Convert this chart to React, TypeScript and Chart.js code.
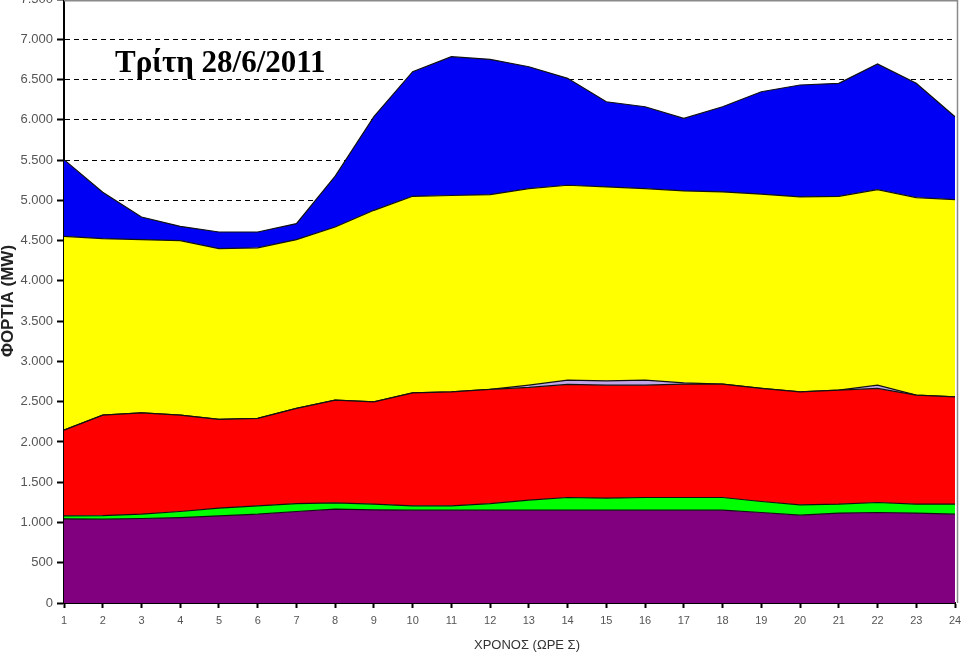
import React, { useEffect, useRef } from "react";
import { Chart, registerables } from "chart.js";

Chart.register(...registerables);

const hours = ["1","2","3","4","5","6","7","8","9","10","11","12","13","14","15","16","17","18","19","20","21","22","23","24"];

const purpleSeries = [1045,1041,1049,1061,1082,1103,1136,1165,1157,1153,1153,1153,1153,1153,1153,1153,1153,1153,1124,1091,1116,1124,1116,1103];
const greenSeries = [37,45,54,75,96,104,99,79,71,54,54,82,124,157,149,157,157,157,136,128,112,124,112,125];
const redSeries = [1065,1247,1259,1197,1102,1085,1181,1275,1270,1403,1415,1417,1400,1404,1403,1395,1408,1408,1405,1403,1415,1416,1353,1332];
const lavenderSeries = [0,0,0,0,0,0,0,0,0,0,0,0,28,53,54,62,16,0,0,0,0,41,0,0];
const yellowSeries = [2406,2191,2150,2167,2120,2118,2096,2150,2378,2440,2438,2418,2441,2420,2408,2379,2383,2386,2411,2420,2407,2429,2453,2450];
const blueSeries = [952,576,281,177,207,197,199,631,1164,1547,1724,1681,1513,1328,1057,1016,900,1058,1272,1390,1403,1559,1419,1027];

const yTitle = "ΦΟΡΤΙΑ (MW)";
const xTitle = "ΧΡΟΝΟΣ (ΩΡΕ Σ)";
const dateLabel = "Τρίτη 28/6/2011";

const TOP_SHIFT = 9;
const W = 961;
const H = 655 + TOP_SHIFT;

function fmt(v: number): string {
  if (v >= 1000) {
    const th = Math.floor(v / 1000);
    const rest = String(v % 1000).padStart(3, "0");
    return th + "." + rest;
  }
  return String(v);
}

const overlayPlugin = {
  id: "overlay",
  afterDraw(chart: any) {
    const { ctx, chartArea } = chart;
    ctx.save();
    ctx.strokeStyle = "#8a8a8a";
    ctx.lineWidth = 1.5;
    ctx.beginPath();
    ctx.moveTo(chartArea.left, TOP_SHIFT + 0.8);
    ctx.lineTo(chartArea.right + 3, TOP_SHIFT + 0.8);
    ctx.moveTo(chartArea.right + 2.5, TOP_SHIFT);
    ctx.lineTo(chartArea.right + 2.5, chartArea.bottom);
    ctx.stroke();
    ctx.fillStyle = "#000";
    ctx.font = 'bold 31px "Liberation Serif", "Times New Roman", serif';
    ctx.textAlign = "left";
    ctx.textBaseline = "alphabetic";
    ctx.fillText(dateLabel, 115, TOP_SHIFT + 72);
    ctx.fillStyle = "#333";
    ctx.font = '13px "Liberation Sans", Arial, sans-serif';
    ctx.textAlign = "center";
    ctx.textBaseline = "middle";
    ctx.fillText(xTitle, 527, chartArea.bottom + 42);
    ctx.restore();
  },
};

function makeSet(label: string, data: number[], color: string, fill: any) {
  return {
    label,
    data,
    backgroundColor: color,
    borderColor: "#111",
    borderWidth: 1.2,
    pointRadius: 0,
    tension: 0,
    fill,
  };
}

export default function App() {
  const ref = useRef<HTMLCanvasElement | null>(null);
  useEffect(() => {
    if (!ref.current) return;
    const chart = new Chart(ref.current, {
      type: "line",
      data: {
        labels: hours,
        datasets: [
          makeSet("purple", purpleSeries, "#800080", "origin"),
          makeSet("green", greenSeries, "#00ff00", "-1"),
          makeSet("red", redSeries, "#ff0000", "-1"),
          makeSet("lavender", lavenderSeries, "#c0a6e6", "-1"),
          makeSet("yellow", yellowSeries, "#ffff00", "-1"),
          makeSet("blue", blueSeries, "#0000f5", "-1"),
        ],
      },
      options: {
        responsive: false,
        animation: false,
        layout: { padding: { top: 8, right: 0, left: 0, bottom: 0 } },
        plugins: {
          legend: { display: false },
          tooltip: { enabled: false },
        },
        scales: {
          x: {
            offset: false,
            grid: {
              drawOnChartArea: false,
              drawTicks: true,
              tickLength: 5,
              tickColor: "#000",
              tickWidth: 2,
            },
            border: { display: true, color: "#000", width: 2 },
            ticks: {
              color: "#555",
              padding: 6,
              maxRotation: 0,
              autoSkip: false,
              font: { family: '"Liberation Sans", Arial, sans-serif', size: 11 },
            },
            afterFit: (s: any) => {
              s.height = 52;
              s.paddingRight = 6;
              s.paddingLeft = 0;
            },
          },
          y: {
            stacked: true,
            min: 0,
            max: 7500,
            ticks: {
              stepSize: 500,
              color: "#555",
              padding: 4,
              font: { family: '"Liberation Sans", Arial, sans-serif', size: 13 },
              callback: (v: any) => fmt(Number(v)),
            },
            grid: {
              drawOnChartArea: true,
              color: (c: any) => (c.tick && (c.tick.value === 7500 || c.tick.value === 0) ? "rgba(0,0,0,0)" : "#000"),
              lineWidth: 1,
              tickLength: 7,
              tickColor: "#000",
              tickWidth: 2,
            },
            border: { display: true, color: "#000", width: 2, dash: [5, 4] },
            title: {
              display: true,
              text: yTitle,
              color: "#222",
              padding: { top: 0, bottom: 0 },
              font: { family: '"Liberation Sans", Arial, sans-serif', size: 17, weight: "bold", lineHeight: 1 },
            },
            afterFit: (s: any) => {
              s.width = 64;
              s.paddingTop = 0;
              s.paddingBottom = 0;
            },
          },
        },
      },
      plugins: [overlayPlugin],
    });
    return () => chart.destroy();
  }, []);
  return (
    <div style={{ position: "absolute", left: 0, top: -TOP_SHIFT, width: W, height: H }}>
      <canvas ref={ref} width={W} height={H} style={{ width: W, height: H, display: "block" }} />
    </div>
  );
}
